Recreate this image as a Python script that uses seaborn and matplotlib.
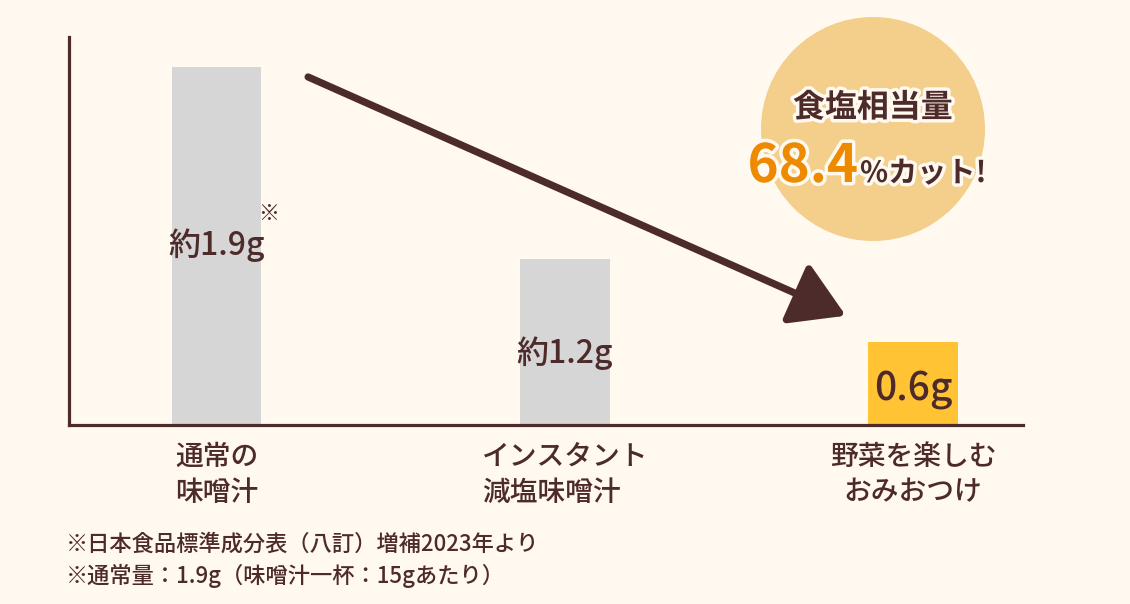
import matplotlib
matplotlib.use("Agg")
import matplotlib.pyplot as plt
import matplotlib.patheffects as pe
from matplotlib.patches import Circle
import seaborn as sns

# ---- data ----
categories = ["通常の\n味噌汁", "インスタント\n減塩味噌汁", "野菜を楽しむ\nおみおつけ"]
bar_heights = [2.59, 1.2, 0.6]          # displayed bar heights
value_labels = ["約1.9g", "約1.2g", "0.6g"]
bar_colors = ["#D6D6D6", "#D6D6D6", "#FFC334"]
badge_title = "食塩相当量"
badge_value = "68.4"
badge_suffix = "%カット!"
footnotes = ["※日本食品標準成分表（八訂）増補2023年より",
             "※通常量：1.9g（味噌汁一杯：15gあたり）"]

BG = "#FFF9F0"
DARK = "#4E2B2B"
FONT = ["Noto Sans CJK JP", "DejaVu Sans"]

sns.set_theme(style="white")
plt.rcParams["font.family"] = FONT

fig = plt.figure(figsize=(11.3, 6.04), dpi=100, facecolor=BG)
ax = fig.add_axes([69/1130, 1-425/604, (1023-69)/1130, (425-37)/604])
ax.patch.set_alpha(0)

sns.barplot(x=categories, y=bar_heights, hue=categories, palette=bar_colors,
            legend=False, width=0.256, ax=ax, saturation=1, linewidth=0)

ax.set_xlim(-0.425, 2.316)
ax.set_ylim(0, 2.805)
for s in ["top", "right"]:
    ax.spines[s].set_visible(False)
for s in ["left", "bottom"]:
    ax.spines[s].set_color(DARK)
    ax.spines[s].set_linewidth(2.3)
ax.set_yticks([])
ax.tick_params(axis="x", length=0, pad=12)
ax.set_xticks(range(len(categories)))
ax.set_xticklabels(categories, fontsize=20, color=DARK, linespacing=1.3,
                   fontweight="medium")
for i, lab in enumerate(ax.get_xticklabels()):
    lab.set_multialignment("center" if i == 2 else "left")
ax.set_xlabel("")
ax.set_ylabel("")

# value labels inside bars
label_y = [1.23, 0.45, 0.18]
label_size = [23, 23, 28]
for i, (txt, y, fs) in enumerate(zip(value_labels, label_y, label_size)):
    ax.text(i, y, txt, ha="center", va="baseline", fontsize=fs, color=DARK,
            fontweight="medium")
ax.text(0.118, 1.48, "※", ha="left", va="baseline", fontsize=15, color=DARK)

# arrow
ax.annotate("", xy=(1.807, 0.79), xytext=(0.262, 2.516),
            arrowprops=dict(arrowstyle="-|>,head_length=33,head_width=20",
                            mutation_scale=1, lw=5.2, color=DARK,
                            shrinkA=0, shrinkB=0, capstyle="round",
                            joinstyle="round"))

# badge circle
circ = Circle((873/100, (604-129)/100), 1.12, transform=fig.dpi_scale_trans,
              facecolor="#F3CF8B", edgecolor="none", zorder=-1)
fig.add_artist(circ)
stroke = [pe.withStroke(linewidth=5, foreground=BG)]
fig.text(873/1130, 1-108/604, badge_title, ha="center", va="center",
         fontsize=23, fontweight="bold", color=DARK, path_effects=stroke)
fig.text(858/1130, 1-182/604, badge_value, ha="right", va="baseline",
         fontsize=38, fontweight="bold", color="#EE8A00", path_effects=stroke)
fig.text(860/1130, 1-182/604, badge_suffix, ha="left", va="baseline",
         fontsize=21, fontweight="bold", color=DARK, path_effects=stroke)

# footnotes
for k, note in enumerate(footnotes):
    fig.text(66/1130, 1-(551+32*k)/604, note, ha="left", va="baseline",
             fontsize=16, fontweight="medium", color=DARK)

fig.savefig("out.png", dpi=100, facecolor=BG)
